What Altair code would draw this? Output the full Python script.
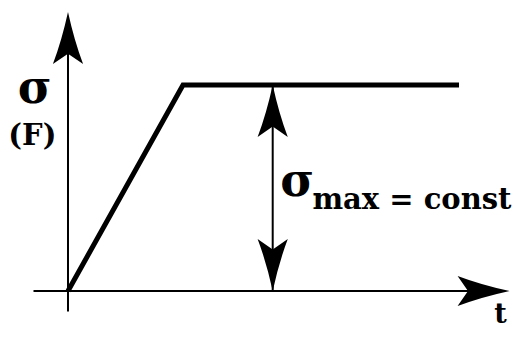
import altair as alt
import pandas as pd

# Schematic: constant-stress (creep) loading profile sigma(t)
prof_t = [0.0, 1.0, 3.4]          # ramp up to sigma_max at t=1, then hold
prof_s = [0.0, 1.0, 1.0]

t_axis = [-0.3, 3.62]             # horizontal (t) axis extent
s_axis = [-0.1, 1.2]              # vertical (sigma) axis extent
t_meas = 1.78                     # position of the sigma_max dimension arrow

arrow_t = [0.0, 3.84, t_meas, t_meas]
arrow_s = [1.354, 0.0, 1.0, 0.0]
arrow_ang = [0, 90, 0, 180]

label_txt = ["σ", "(F)", "σ", "max = const", "t"]
label_t = [-0.29, -0.31, 1.845, 2.125, 3.76]
label_s = [0.915, 0.71, 0.462, 0.398, -0.155]
label_size = [46, 29, 46, 29, 27]
label_align = ["center", "center", "left", "left", "center"]

FONT = "DejaVu Serif"

X = alt.Scale(domain=[-0.5217, 3.9043])
Y = alt.Scale(domain=[-0.1845, 1.3738])
ax = dict(axis=None)

prof = pd.DataFrame({"t": prof_t, "s": prof_s, "o": [0, 1, 2]})
profile = alt.Chart(prof).mark_line(color="black", strokeWidth=5, strokeJoin="miter", clip=False).encode(
    x=alt.X("t:Q", scale=X, **ax), y=alt.Y("s:Q", scale=Y, **ax), order="o:Q")

hax = pd.DataFrame({"t": [t_axis[0]], "t2": [t_axis[1]], "s": [0.0]})
h_axis = alt.Chart(hax).mark_rule(color="black", strokeWidth=2).encode(
    x=alt.X("t:Q", scale=X, **ax), x2="t2:Q", y=alt.Y("s:Q", scale=Y, **ax))

vax = pd.DataFrame({"t": [0.0], "s": [s_axis[0]], "s2": [s_axis[1]]})
v_axis = alt.Chart(vax).mark_rule(color="black", strokeWidth=2).encode(
    x=alt.X("t:Q", scale=X, **ax), y=alt.Y("s:Q", scale=Y, **ax), y2="s2:Q")

mdf = pd.DataFrame({"t": [t_meas], "s": [0.0], "s2": [1.0]})
meas = alt.Chart(mdf).mark_rule(color="black", strokeWidth=2).encode(
    x=alt.X("t:Q", scale=X, **ax), y=alt.Y("s:Q", scale=Y, **ax), y2="s2:Q")

arrow_path = "M0,0 Q0.12,0.55 0.29,1 L0,0.8 L-0.29,1 Q-0.12,0.55 0,0 Z"
adf = pd.DataFrame({"t": arrow_t, "s": arrow_s, "a": arrow_ang})
arrows = alt.Chart(adf).mark_point(shape=arrow_path, filled=True, color="black",
                                   opacity=1, size=10816, strokeWidth=0, clip=False).encode(
    x=alt.X("t:Q", scale=X, **ax), y=alt.Y("s:Q", scale=Y, **ax),
    angle=alt.Angle("a:Q", scale=None))

ldf = pd.DataFrame({"txt": label_txt, "t": label_t, "s": label_s,
                    "fs": label_size, "al": label_align})
layers = []
for al in ["center", "left"]:
    sub = ldf[ldf["al"] == al]
    layers.append(alt.Chart(sub).mark_text(font=FONT, fontWeight="bold",
                                           color="black", align=al, baseline="alphabetic",
                                           clip=False).encode(
        x=alt.X("t:Q", scale=X, **ax), y=alt.Y("s:Q", scale=Y, **ax),
        text="txt:N", size=alt.Size("fs:Q", scale=None)))

chart = alt.layer(profile, h_axis, v_axis, meas, arrows, *layers).properties(
    width=509, height=321, padding=0, autosize="none", background="white"
).configure_view(stroke=None)

chart.save("out.html", embed_options={"renderer": "svg", "actions": False})
